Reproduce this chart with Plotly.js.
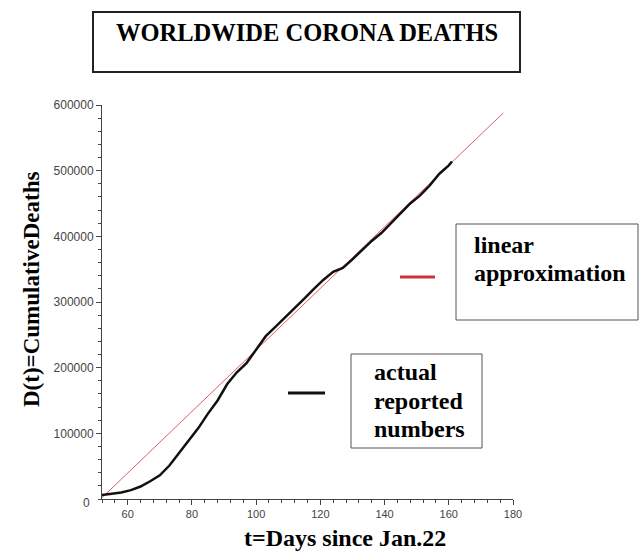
<!DOCTYPE html>
<html>
<head>
<meta charset="utf-8">
<script src="https://cdn.plot.ly/plotly-3.0.1.min.js"></script>
<style>
html,body{margin:0;padding:0;background:#fff;}
#chart{width:640px;height:552px;}
</style>
</head>
<body>
<div id="chart"></div>
<script>
// Actual reported cumulative deaths
const days = [52,55,58,61,64,67,70,73,76,79,82,85,88,91,94,97,100,103,106,109,112,115,118,121,124,127,130,133,136,139,142,145,148,151,154,157,160,161];
const deaths = [6000,7500,10000,13500,19000,27000,36000,51000,70000,88000,108000,130000,150000,175000,193000,207000,228000,248000,262000,276000,290000,305000,320000,334000,346000,352000,365000,379000,393000,405000,420000,435000,450000,462000,477000,495000,508000,514000];
// Linear approximation endpoints
const linDays = [52,177];
const linDeaths = [2000,588000];
// Tick labels
const xTicks = [60,80,100,120,140,160,180];
const yTicks = [100000,200000,300000,400000,500000,600000];

const serif = 'Liberation Serif, Times New Roman, serif';
const sans = 'Liberation Sans, Arial, sans-serif';

// pixel -> paper helpers (plot area: left 102, right 513, top 105, bottom 499)
const L=102, R=513, T=105, B=499;
const px = x => (x-L)/(R-L);
const py = y => (B-y)/(B-T);

const traces = [
  {x: linDays, y: linDeaths, mode:'lines', line:{color:'rgb(225,95,95)', width:1}, hoverinfo:'skip'},
  {x: days, y: deaths, mode:'lines', line:{color:'#111', width:2.5}, hoverinfo:'skip'}
];

const axCommon = {showgrid:false, zeroline:false, showline:true, linecolor:'#444', linewidth:1, tickcolor:'#444', tickwidth:1};

function txt(s, x, y, opts){
  return Object.assign({text:s, xref:'paper', yref:'paper', x:px(x), y:py(y), showarrow:false,
    xanchor:'left', yanchor:'middle', font:{family:serif, size:24, color:'#000'}}, opts||{});
}

const layout = {
  width:640, height:552,
  margin:{l:L, r:640-R, t:T, b:552-B, pad:0},
  paper_bgcolor:'#fff', plot_bgcolor:'#fff',
  showlegend:false,
  xaxis: Object.assign({}, axCommon, {
    range:[52,180], tickmode:'array', tickvals:xTicks, ticktext:xTicks.map(String),
    ticks:'outside', ticklen:5,
    minor:{ticks:'outside', ticklen:3, tickmode:'linear', tick0:52, dtick:4, tickcolor:'#444'},
    tickfont:{family:sans, size:11, color:'#444'}
  }),
  yaxis: Object.assign({}, axCommon, {
    range:[0,600000], tickmode:'array', tickvals:yTicks, ticktext:yTicks.map(String),
    ticks:'outside', ticklen:5,
    minor:{ticks:'outside', ticklen:3, tickmode:'linear', tick0:0, dtick:20000, tickcolor:'#444'},
    tickfont:{family:sans, size:12, color:'#444'}
  }),
  xaxis2: {overlaying:'x', anchor:'y', side:'bottom', range:[52,180], showgrid:false, zeroline:false, showline:false,
    ticks:'inside', ticklen:3, tickmode:'linear', tick0:52, dtick:4, showticklabels:false, tickcolor:'#444'},
  yaxis2: {overlaying:'y', anchor:'x', side:'left', range:[0,600000], showgrid:false, zeroline:false, showline:false,
    ticks:'inside', ticklen:3, tickmode:'linear', tick0:0, dtick:20000, showticklabels:false, tickcolor:'#444'},
  shapes: [
    {type:'rect', xref:'paper', yref:'paper', x0:px(93), x1:px(520), y0:py(72), y1:py(12), line:{color:'#222', width:2}},
    {type:'rect', xref:'paper', yref:'paper', x0:px(456), x1:px(638), y0:py(320), y1:py(224), line:{color:'#555', width:1}},
    {type:'line', xref:'paper', yref:'paper', x0:px(400), x1:px(435), y0:py(277), y1:py(277), line:{color:'rgb(205,50,60)', width:3}},
    {type:'rect', xref:'paper', yref:'paper', x0:px(351), x1:px(482), y0:py(448), y1:py(354), line:{color:'#555', width:1}},
    {type:'line', xref:'paper', yref:'paper', x0:px(288), x1:px(325), y0:py(393), y1:py(393), line:{color:'#111', width:3}}
  ],
  annotations: [
    txt('<b>WORLDWIDE CORONA DEATHS</b>', 307, 33, {xanchor:'center', font:{family:serif, size:24.5, color:'#000'}}),
    txt('<b>D(t)=CumulativeDeaths</b>', 31, 290, {xanchor:'center', textangle:-90, font:{family:serif, size:23, color:'#000'}}),
    txt('<b>t=Days since Jan.22</b>', 345, 538, {xanchor:'center'}),
    txt('<b>linear</b>', 472, 245),
    txt('<b>approximation</b>', 472, 273),
    txt('<b>actual</b>', 372, 372),
    txt('<b>reported</b>', 372, 401),
    txt('<b>numbers</b>', 372, 429),
    txt('0', 86, 503, {xanchor:'center', font:{family:sans, size:12, color:'#444'}})
  ]
};

Plotly.newPlot('chart', traces, layout, {staticPlot:true, displayModeBar:false});
</script>
</body>
</html>
